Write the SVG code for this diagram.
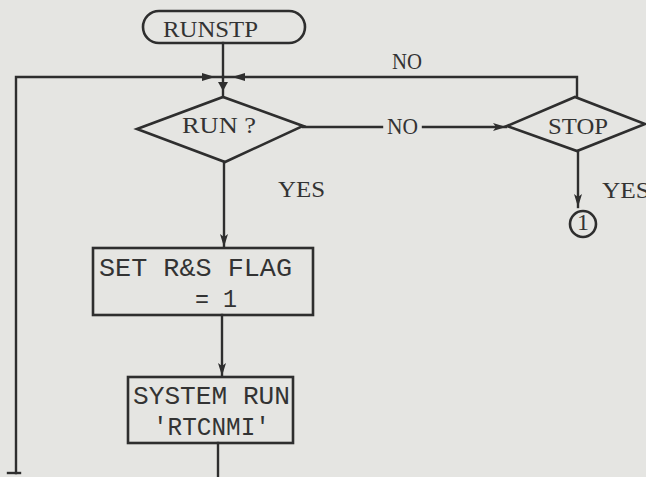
<svg xmlns="http://www.w3.org/2000/svg" width="646" height="477" viewBox="0 0 646 477">
<defs>
<style>
.ln{fill:none;stroke:#2e2e2e;stroke-width:2.4;stroke-linecap:square}
.sh{fill:none;stroke:#2e2e2e;stroke-width:2.6;stroke-linejoin:miter}
.ah{fill:#2e2e2e}
.sf{font-family:"Liberation Serif","Times New Roman",serif;font-size:24px;fill:#333}
.mo{font-family:"Liberation Mono","Courier New",monospace;font-size:25px;fill:#333}
</style>
<marker id="arr" viewBox="0 0 13 8" refX="13" refY="4" markerWidth="13" markerHeight="8" markerUnits="userSpaceOnUse" orient="auto">
<path d="M0,0 L13,4 L0,8 L3,4 z" fill="#2e2e2e"/>
</marker>
</defs>
<rect x="0" y="0" width="646" height="477" fill="#e5e5e2"/>

<g id="connectors">
<path class="ln" d="M223,43 V97"/>
<path class="ah" d="M218,82 L228,82 L223,91 z"/>
<path class="ln" d="M16,473 V77 H223"/>
<path class="ln" d="M8,473 H20"/>
<path class="ln" d="M218,443 V477"/>
<path class="ln" d="M577,97 V77 H223"/>
<path class="ah" d="M202,73 L215,77 L202,81 z"/>
<path class="ah" d="M245,73 L232,77 L245,81 z"/>
<text class="sf" x="392" y="69" textLength="30" lengthAdjust="spacingAndGlyphs">NO</text>
<path class="ln" d="M303,127 H382"/>
<path class="ln" d="M423,127 H506" marker-end="url(#arr)"/>
<text class="sf" x="387" y="134" textLength="31" lengthAdjust="spacingAndGlyphs">NO</text>
<path class="ln" d="M224,162 V247" marker-end="url(#arr)"/>
<text class="sf" x="278" y="197" textLength="47" lengthAdjust="spacingAndGlyphs">YES</text>
<path class="ln" d="M222,315 V376" marker-end="url(#arr)"/>
<path class="ln" d="M578,151 V207" marker-end="url(#arr)"/>
<text class="sf" x="602" y="198" textLength="48" lengthAdjust="spacingAndGlyphs">YES</text>
</g>

<g id="node-runstp">
<rect class="sh" x="143" y="11" width="162" height="32" rx="16" ry="16"/>
<text class="sf" x="163" y="37" textLength="95" lengthAdjust="spacingAndGlyphs">RUNSTP</text>
</g>

<g id="node-run">
<polygon class="sh" points="137,129 223,97 303,126 225,162"/>
<text class="sf" x="182" y="133" textLength="74" lengthAdjust="spacingAndGlyphs">RUN  ?</text>
</g>

<g id="node-stop">
<polygon class="sh" points="507,126 575,97 645,124 577,151"/>
<text class="sf" x="548" y="134" textLength="60" lengthAdjust="spacingAndGlyphs">STOP</text>
</g>

<g id="node-set-flag">
<rect class="sh" x="93" y="248" width="220" height="67"/>
<text class="mo" x="99" y="276" textLength="193" lengthAdjust="spacingAndGlyphs">SET R&amp;S FLAG</text>
<text class="mo" x="195" y="307" textLength="42" lengthAdjust="spacingAndGlyphs">= 1</text>
</g>

<g id="node-system-run">
<rect class="sh" x="128" y="377" width="165" height="66"/>
<text class="mo" x="133" y="404" textLength="157" lengthAdjust="spacingAndGlyphs">SYSTEM RUN</text>
<text class="mo" x="153" y="435" textLength="117" lengthAdjust="spacingAndGlyphs">'RTCNMI'</text>
</g>

<g id="node-connector-1">
<circle class="sh" cx="583" cy="224" r="13"/>
<text class="sf" x="583" y="230" font-size="16" text-anchor="middle">1</text>
</g>
</svg>
